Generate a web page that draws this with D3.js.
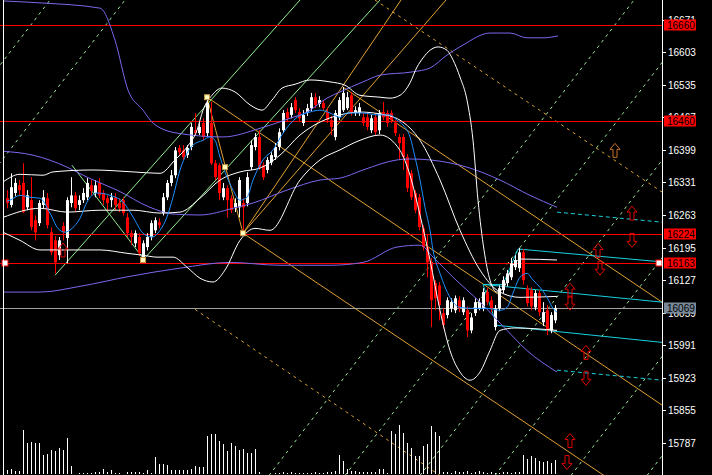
<!DOCTYPE html>
<meta charset="utf-8">
<script src="https://d3js.org/d3.v7.min.js"></script>
<style>
body { margin: 0; background: #000; }
text { font-family: "Liberation Sans", Arial, sans-serif; }
</style>
<div id="chart"></div>
<script>
// ---- data ----
var opens = [16298,16284,16309,16325,16330,16279,16294,16252,16246,16284,
16298,16227,16210,16179,16240,16215,16288,16304,16284,16294,
16300,16325,16309,16330,16309,16298,16294,16300,16288,16294,
16258,16225,16204,16217,16175,16196,16217,16231,16248,16267,
16300,16330,16346,16403,16398,16388,16405,16440,16434,16455,
16434,16455,16371,16367,16300,16319,16298,16279,16279,16288,
16288,16363,16405,16426,16367,16357,16373,16384,16405,16440,
16478,16472,16503,16478,16455,16476,16486,16509,16495,16497,
16478,16461,16426,16467,16482,16486,16513,16476,16476,16467,
16467,16440,16467,16440,16478,16476,16476,16455,16426,16426,
16384,16350,16309,16300,16235,16196,16164,16121,16116,16058,
16054,16068,16064,16085,16060,16064,16022,16058,16068,16068,
16102,16085,16029,16068,16106,16121,16133,16154,16152,16185,
16110,16106,16070,16100,16039,16064,16022,16043];
var highs = [16315,16350,16340,16336,16371,16315,16342,16262,16294,16315,
16309,16237,16219,16217,16248,16300,16342,16311,16304,16319,
16340,16336,16336,16340,16315,16304,16309,16309,16298,16300,
16267,16231,16231,16225,16210,16225,16252,16258,16256,16309,
16336,16357,16405,16409,16409,16409,16455,16476,16457,16465,
16509,16499,16378,16371,16330,16325,16304,16298,16342,16298,
16352,16419,16434,16440,16373,16384,16394,16413,16444,16482,
16486,16497,16509,16486,16482,16495,16518,16518,16511,16503,
16486,16470,16482,16509,16530,16520,16520,16490,16497,16476,
16476,16472,16476,16482,16499,16482,16482,16461,16432,16432,
16390,16357,16315,16307,16242,16223,16173,16127,16123,16068,
16091,16089,16095,16093,16091,16072,16058,16089,16089,16110,
16110,16093,16075,16116,16135,16148,16173,16179,16194,16192,
16116,16112,16106,16106,16081,16075,16060,16075];
var lows = [16277,16279,16302,16304,16267,16273,16231,16210,16240,16277,
16235,16179,16141,16169,16210,16162,16279,16269,16273,16288,
16294,16304,16300,16298,16284,16273,16279,16273,16269,16262,
16217,16200,16196,16177,16164,16189,16210,16225,16235,16262,
16294,16323,16340,16388,16378,16382,16398,16430,16430,16419,
16426,16367,16336,16294,16294,16258,16267,16269,16258,16225,
16281,16357,16398,16357,16336,16350,16367,16378,16398,16434,
16457,16465,16476,16457,16449,16470,16480,16486,16488,16480,
16455,16430,16419,16461,16478,16482,16470,16470,16470,16449,
16440,16434,16430,16432,16461,16447,16455,16428,16378,16357,
16311,16294,16267,16231,16189,16133,16029,16064,16043,16026,
16047,16060,16058,16060,16054,16008,16016,16052,16064,16062,
16075,16060,16022,16062,16100,16114,16127,16148,16144,16118,
16072,16064,16064,16052,16031,16012,16016,16037];
var closes = [16288,16321,16330,16315,16269,16304,16238,16227,16288,16300,
16242,16185,16164,16210,16227,16294,16304,16277,16294,16309,
16330,16313,16325,16304,16294,16288,16300,16284,16277,16267,
16225,16217,16225,16183,16204,16217,16246,16252,16242,16300,
16330,16346,16398,16394,16384,16403,16447,16434,16447,16426,
16497,16371,16342,16309,16319,16294,16273,16288,16336,16279,
16342,16409,16426,16363,16342,16378,16388,16405,16436,16476,
16465,16488,16482,16465,16472,16486,16509,16493,16503,16486,
16461,16447,16476,16503,16518,16509,16476,16482,16488,16455,
16447,16465,16436,16476,16467,16455,16461,16434,16413,16384,
16319,16300,16273,16238,16196,16164,16085,16089,16075,16033,
16085,16081,16089,16068,16085,16022,16049,16081,16081,16102,
16081,16068,16068,16110,16127,16141,16162,16169,16185,16127,
16079,16072,16100,16060,16060,16022,16054,16069];
var volumes = [45,55,35,35,445,315,318,315,310,195,
200,236,230,260,240,360,76,4,10,10,
14,7,18,24,55,24,40,14,14,4,
18,24,20,24,14,45,14,168,100,100,
90,45,38,38,38,38,48,76,70,72,
380,404,400,330,298,230,308,277,236,247,
213,213,254,18,4,2,4,7,10,18,
14,24,10,7,14,10,7,24,10,14,
18,24,28,192,127,52,31,31,18,20,
24,18,24,55,55,7,435,400,486,410,
315,264,185,185,284,298,476,418,384,20,
24,14,31,18,24,28,14,24,31,18,
10,24,7,14,24,18,14,24,20,189,
150,185,160,127,120,134,110,137];

var priceTicks = [16671,16603,16535,16467,16399,16331,16263,16195,16127,16059,15991,15923,15855,15787];
var redLevels = [16660, 16460, 16224, 16163];
var lastPrice = 16069;

// indicator lines, [bar, price]
var blueMA = [[0,16292],[0.75,16294],[3.25,16304],[5.75,16300],[8.25,16298],[10.75,16267],[12.75,16235],[14.5,16227],[16.25,16235],[18.25,16256],[20,16290],[22.5,16309],[25.75,16304],[29,16290],[31.5,16259],[34,16225],[36.25,16217],[38.25,16231],[40,16259],[41.5,16300],[43.25,16357],[45,16392],[46.5,16409],[49,16419],[50.75,16426],[52,16419],[53.25,16384],[55,16342],[56.5,16315],[58.25,16294],[60,16300],[61.5,16336],[64,16378],[66.5,16399],[69,16434],[72.5,16467],[75.75,16478],[78.25,16482],[80.75,16476],[83.25,16467],[85,16476],[89,16476],[92.5,16472],[95.75,16472],[97.5,16461],[99,16451],[100.75,16426],[102,16384],[103.25,16336],[104.5,16279],[105.75,16231],[106.5,16190],[108.25,16141],[110.75,16091],[113.25,16070],[116.5,16068],[120,16068],[123.25,16064],[125,16070],[126.5,16100],[128.25,16133],[130,16141],[131.5,16127],[133.25,16112],[135,16091],[136.5,16068],[137.5,16060]];

var bbUpper = [[-1,16332],[3.25,16348],[9,16346],[11.5,16353],[21.5,16357],[31.5,16353],[38.25,16350],[42,16378],[45,16405],[47.5,16440],[49,16482],[51.25,16513],[53.75,16528],[57,16520],[60.75,16493],[63.75,16482],[66.25,16503],[68.75,16528],[72,16536],[75.75,16545],[80.75,16541],[84.5,16534],[88.25,16513],[93.25,16509],[95.75,16507],[98.25,16513],[100.75,16539],[102.5,16572],[104,16591],[105.75,16607],[107.75,16614],[110,16607],[111.5,16587],[113.25,16551],[115,16503],[116.5,16419],[117.75,16294],[119.25,16190],[120.75,16127],[122.5,16102],[124.5,16116],[126.5,16158],[128.75,16171],[137.5,16169]];
var bbMiddle = [[-1,16258],[8.25,16277],[15,16269],[23.25,16273],[31.5,16273],[38.25,16267],[43.25,16269],[48.25,16298],[53.25,16336],[58.25,16353],[63.25,16361],[68.25,16388],[73.25,16430],[78.25,16457],[83.25,16472],[88.25,16478],[93.25,16474],[98.25,16461],[103.25,16419],[108.25,16336],[113.25,16231],[118.25,16148],[123.25,16102],[128.25,16091],[137.5,16093]];
var bbLower = [[-1,16227],[3.25,16210],[8.25,16190],[15,16190],[23.25,16190],[30,16183],[34,16179],[37.5,16175],[41.5,16175],[45,16154],[48.25,16131],[51.5,16123],[54.5,16148],[58.25,16210],[62,16235],[65.75,16231],[73.25,16336],[78.25,16378],[83.25,16399],[88.25,16419],[93.25,16430],[98.25,16398],[100.75,16346],[103.25,16263],[105.75,16169],[108.25,16064],[110.75,15980],[113.25,15935],[115.75,15918],[118.25,15935],[120.75,15980],[123.25,16022],[127,16027],[137.5,16022]];

var slowUpper = [[-1,16710],[8.25,16706],[23.25,16695],[27,16628],[30.25,16524],[34,16482],[36.5,16455],[42.5,16434],[54,16426],[63.25,16444],[70.75,16465],[75,16478],[80,16507],[83.25,16520],[89,16541],[93.25,16555],[101.5,16562],[105.75,16570],[110,16597],[114,16618],[120.75,16643],[125.75,16643],[130,16633],[134,16633],[137.75,16637]];
var slowMiddle = [[-1,16396],[6.5,16388],[15,16363],[20,16342],[27.5,16315],[35.75,16279],[41.5,16265],[48.25,16263],[56.5,16277],[61.5,16288],[70,16315],[78.25,16336],[83.25,16340],[89,16357],[97.5,16378],[100.75,16380],[105.75,16378],[115.75,16361],[123.25,16336],[130.75,16304],[137.5,16279]];
var slowLower = [[-1,16102],[8.25,16102],[18.25,16114],[30.75,16135],[43.25,16152],[55.75,16164],[68.25,16158],[80.75,16158],[89,16164],[97.5,16196],[103.25,16200],[106.5,16175],[111.5,16133],[118.25,16081],[125,16022],[130,15980],[137.5,15935]];

// drawn objects, each [[bar, price],[bar, price]]
var greenSolid = [[[12,16137],[73.25,16712]], [[34,16169],[93.25,16712]], [[16.25,16367],[34,16173]]];
var orangeSolid = [[[50,16509],[163.75,15866]], [[84,16530],[163.75,16081]], [[59,16225],[149.25,15719]],
  [[50,16509],[59,16225]], [[59,16225],[109.75,16712]], [[59,16225],[98.5,16712]]];
var orangeDashed = [[[92,16712],[163.75,16311]], [[47,16066],[108.25,15719]]];
var greenDashed = [[[65.5,15719],[156.75,16712]], [[84.5,15719],[175.75,16712]], [[103.25,15719],[194.5,16712]],
  [[122,15719],[213.25,16712]], [[141,15719],[232,16712]], [[160,15719],[251.25,16712]],
  [[-80.5,15719],[10.75,16712]], [[-61.75,15719],[29.5,16712]]];
var cyanSolid = [[[127.75,16192],[163.75,16165]], [[119,16118],[163.75,16081]], [[122,16033],[163.75,15997]],
  [[119,16118],[122.5,16031]], [[124,16118],[127.75,16192]], [[119,16118],[124,16118]]];
var cyanDashed = [[[137.5,16269],[163.75,16248]], [[137.5,15939],[163.75,15918]]];

var arrowsUp = [[156.25,16267],[147.75,16189],[140.75,16106],[144.75,15976],[140.75,15792],[14,16190]];
var arrowsDown = [[156.25,16210],[148.25,16152],[140.75,16079],[144.75,15922],[140,15746]];
var arrowOrange = [[152,16398]];
var fractals = [[50,16509],[54.5,16363],[59,16225],[34,16169]];

// ---- layout ----
var W = 712, H = 475, axisX = 662;
var svg = d3.select("#chart").append("svg").attr("width", W).attr("height", H)
  .style("background", "#000");

var x = d3.scaleLinear().domain([0, 137]).range([7, 555]);
var y = d3.scaleLinear().domain([15720, 16712]).range([475, 0]);
var yv = d3.scaleLinear().domain([0, 500]).range([474, 424]);

svg.append("clipPath").attr("id", "plot")
  .append("rect").attr("x", 0).attr("y", 0).attr("width", axisX).attr("height", H);
var g = svg.append("g").attr("clip-path", "url(#plot)");

function seg(list, color, dash, width) {
  g.selectAll(null).data(list).enter().append("line")
    .attr("x1", function(d) { return x(d[0][0]); })
    .attr("y1", function(d) { return y(d[0][1]); })
    .attr("x2", function(d) { return x(d[1][0]); })
    .attr("y2", function(d) { return y(d[1][1]); })
    .attr("stroke", color).attr("stroke-width", width || 1)
    .attr("stroke-dasharray", dash || null);
}

seg(greenDashed, "#9be89b", "3,4");
seg(orangeDashed, "#d9a030", "3,4");
seg(greenSolid, "#90ee90");
seg(orangeSolid, "#e0a030");

// horizontal levels
g.selectAll(null).data(redLevels).enter().append("line")
  .attr("x1", 0).attr("x2", axisX)
  .attr("y1", function(d) { return Math.round(y(d)) + 0.5; })
  .attr("y2", function(d) { return Math.round(y(d)) + 0.5; })
  .attr("stroke", "#ff0000").attr("stroke-width", 1.2)
  .attr("shape-rendering", "crispEdges");
g.append("line").attr("x1", 0).attr("x2", axisX)
  .attr("y1", Math.round(y(lastPrice)) + 0.5).attr("y2", Math.round(y(lastPrice)) + 0.5)
  .attr("stroke", "#a0a0a0").attr("shape-rendering", "crispEdges");

seg(cyanDashed, "#1ad0e0", "4,3");
seg(cyanSolid, "#1ad0e0");

// volume
g.selectAll(null).data(volumes).enter().append("line")
  .attr("x1", function(d, i) { return Math.round(x(i)) + 0.5; })
  .attr("x2", function(d, i) { return Math.round(x(i)) + 0.5; })
  .attr("y1", yv(0)).attr("y2", function(d) { return yv(d); })
  .attr("stroke", "#fff").attr("shape-rendering", "crispEdges");

// candles
var bars = d3.range(closes.length);
var cg = g.selectAll(null).data(bars).enter().append("g");
cg.append("line")
  .attr("x1", function(i) { return Math.round(x(i)) + 0.5; })
  .attr("x2", function(i) { return Math.round(x(i)) + 0.5; })
  .attr("y1", function(i) { return y(highs[i]); })
  .attr("y2", function(i) { return y(lows[i]); })
  .attr("stroke", function(i) { return closes[i] >= opens[i] ? "#fff" : "#ff0000"; });
cg.append("rect")
  .attr("x", function(i) { return Math.round(x(i)) - 1; })
  .attr("width", 3)
  .attr("y", function(i) { return y(Math.max(opens[i], closes[i])); })
  .attr("height", function(i) { return Math.max(1, Math.abs(y(opens[i]) - y(closes[i]))); })
  .attr("fill", function(i) { return closes[i] >= opens[i] ? "#fff" : "#ff0000"; });

// indicator lines
function curve(pts, color) {
  g.append("path").datum(pts)
    .attr("d", d3.line().x(function(d) { return x(d[0]); }).y(function(d) { return y(d[1]); })
      .curve(d3.curveMonotoneX))
    .attr("fill", "none").attr("stroke", color).attr("stroke-width", 1);
}
curve(slowUpper, "#7b68ee");
curve(slowMiddle, "#7b68ee");
curve(slowLower, "#7b68ee");
curve(bbUpper, "#fff");
curve(bbMiddle, "#fff");
curve(bbLower, "#fff");
curve(blueMA, "#1e90ff");

// arrows
var upPath = "M0,-7 L5,-1 L2,-1 L2,7 L-2,7 L-2,-1 L-5,-1 Z";
var downPath = "M0,7 L5,1 L2,1 L2,-7 L-2,-7 L-2,1 L-5,1 Z";
function arrows(list, path, color) {
  g.selectAll(null).data(list).enter().append("path")
    .attr("d", path)
    .attr("transform", function(d) { return "translate(" + x(d[0]) + "," + y(d[1]) + ")"; })
    .attr("fill", "none").attr("stroke", color);
}
arrows(arrowsUp, upPath, "#e00000");
arrows(arrowsDown, downPath, "#e00000");
arrows(arrowOrange, upPath, "#c87020");

// fractal markers
g.selectAll(null).data(fractals).enter().append("rect")
  .attr("x", function(d) { return x(d[0]) - 2.5; })
  .attr("y", function(d) { return y(d[1]) - 2.5; })
  .attr("width", 5).attr("height", 5)
  .attr("fill", "#ffffc0").attr("stroke", "#c89040");
[[5, 16163], [659, 16163]].forEach(function(p) {
  svg.append("rect").attr("x", p[0] - 3).attr("y", Math.round(y(p[1])) - 3)
    .attr("width", 6).attr("height", 6)
    .attr("fill", "#fff").attr("stroke", "#ff0000");
});

// frame
svg.append("line").attr("x1", 3.5).attr("x2", 3.5).attr("y1", 0).attr("y2", H).attr("stroke", "#fff");
svg.append("line").attr("x1", axisX + 0.5).attr("x2", axisX + 0.5).attr("y1", 0).attr("y2", H).attr("stroke", "#fff");

// price axis
var ax = svg.append("g").selectAll(null).data(priceTicks).enter().append("g")
  .attr("transform", function(d) { return "translate(0," + Math.round(y(d)) + ")"; });
ax.append("line").attr("x1", axisX).attr("x2", axisX + 4).attr("y1", 0.5).attr("y2", 0.5).attr("stroke", "#fff");
ax.append("text").attr("x", 668).attr("y", 4).attr("fill", "#fff")
  .attr("font-size", "10px").text(function(d) { return d; });

// level labels
function tag(v, bg) {
  var t = svg.append("g").attr("transform", "translate(664," + Math.round(y(v)) + ")");
  t.append("rect").attr("x", 0).attr("y", -5.5).attr("width", 32).attr("height", 11).attr("fill", bg);
  t.append("text").attr("x", 3).attr("y", 4).attr("fill", "#000").attr("font-size", "10px").text(v);
}
redLevels.forEach(function(v) { tag(v, "#ff0000"); });
tag(lastPrice, "#778899");
</script>
